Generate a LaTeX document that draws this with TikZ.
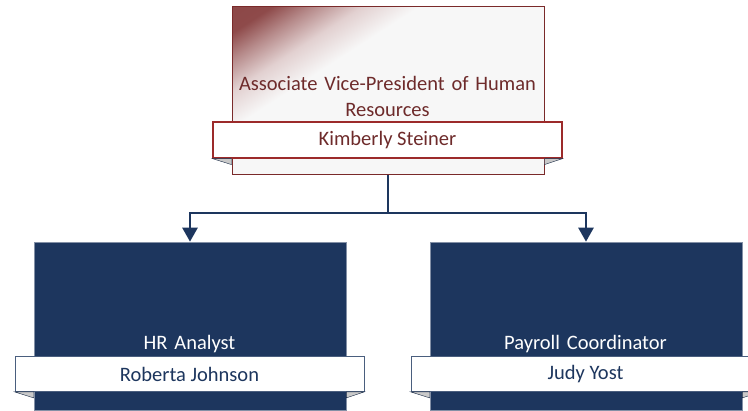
\documentclass[tikz,border=0pt]{standalone}
\usepackage{fontspec}
\setmainfont{Carlito}
\usetikzlibrary{arrows.meta,positioning}

\definecolor{avpred}{HTML}{7A2A2A}
\definecolor{avptext}{HTML}{6E2B2B}
\definecolor{bannerred}{HTML}{9C2A2A}
\definecolor{staffblue}{HTML}{1D365E}
\definecolor{foldgrey}{HTML}{C9C9C9}

\pgfdeclarehorizontalshading{cornerfade}{100bp}{color(0bp)=(avpred!90!white);
  color(20bp)=(avpred!85!white); color(25bp)=(avpred!55!white);
  color(31bp)=(avpred!22!white); color(38bp)=(white!97!black);
  color(100bp)=(white!97!black)}

\tikzset{
  avpbox/.style={draw=avpred,line width=1pt,shade,shading=cornerfade,
    shading angle=-57,minimum width=312pt,minimum height=168pt},
  avpbanner/.style={draw=bannerred,line width=1.2pt,fill=white,
    text=avptext,minimum width=349pt,minimum height=36pt},
  avptitle/.style={text=avptext,align=center,text width=312pt,
    inner sep=0pt},
  staffbox/.style={draw=staffblue!55!white,line width=0.6pt,fill=staffblue,
    minimum width=312pt,minimum height=168pt},
  staffbanner/.style={draw=staffblue!80!white,line width=0.8pt,fill=white,
    text=staffblue,minimum width=349pt,minimum height=35pt},
  stafftitle/.style={text=white,align=center,text width=312pt,inner sep=0pt},
  fold/.style={fill=foldgrey,draw=staffblue!70!black,line width=0.4pt},
  reports/.style={draw=staffblue,line width=2.5pt,
    -{Triangle[width=15pt,length=14pt]}}
}

\begin{document}
\begin{tikzpicture}[x=1pt,y=-1pt,font=\fontsize{20.5}{26}\selectfont]
  \useasboundingbox (0,0) rectangle (748,411);

  \node[avpbox]      (avp)      at (388,91)      {};
  \node[staffbox]    (hra)      at (190,326)     {};
  \node[staffbox]    (pc)       at (586,326)     {};

  \node[avpbanner]   (avpname)  at (387.5,140)   {Kimberly Steiner};
  \node[staffbanner] (hraname)  at (189.5,374)   {Roberta Johnson};
  \node[staffbanner] (pcname)   at (585.5,374)   {Judy Yost};

  \foreach \b/\n in {avp/avpname,hra/hraname,pc/pcname}{
    \filldraw[fold] (\n.south west) -- (\b.west |- \n.south)
      -- ([yshift=-6pt]\b.west |- \n.south) -- cycle;
    \filldraw[fold] (\n.south east) -- (\b.east |- \n.south)
      -- ([yshift=-6pt]\b.east |- \n.south) -- cycle;
  }

  \node[avptitle]    (avptitle) [above=5pt of avpname]
    {Associate Vice-President of Human\\Resources};
  \node[stafftitle]  (hratitle) [above=3pt of hraname] {HR Analyst};
  \node[stafftitle]  (pctitle)  [above=3pt of pcname]  {Payroll Coordinator};

  \coordinate (split) at (388,213);
  \draw[staffblue,line width=2.5pt] (avp.south) -- (split);
  \draw[reports] (split) -| (hra.north);
  \draw[reports] (split) -| (pc.north);
\end{tikzpicture}
\end{document}
